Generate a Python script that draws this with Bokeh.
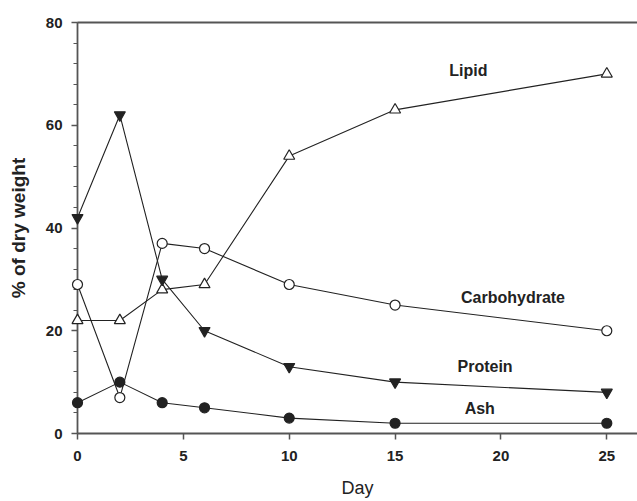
from bokeh.plotting import figure
from bokeh.models import Range1d, LinearAxis, FixedTicker, SingleIntervalTicker
from bokeh.core.properties import value
from bokeh.embed import file_html
from bokeh.resources import INLINE

days = [0, 2, 4, 6, 10, 15, 25]
lipid = [22, 22, 28, 29, 54, 63, 70]
carbohydrate = [29, 7, 37, 36, 29, 25, 20]
protein = [42, 62, 30, 20, 13, 10, 8]
ash = [6, 10, 6, 5, 3, 2, 2]

x_ticks = [0, 5, 10, 15, 20, 25]

label_text = ["Lipid", "Carbohydrate", "Protein", "Ash"]
label_x = [18.46, 20.57, 19.25, 19.0]
label_y = [70.6, 26.4, 13.0, 4.8]

FONT = "Liberation Sans"
INK = "#222222"
AXIS = "#555555"

p = figure(width=637, height=501,
           x_range=Range1d(0, 26.45), y_range=Range1d(0, 80),
           output_backend="svg", toolbar_location=None,
           min_border_left=77, min_border_right=0,
           min_border_top=22, min_border_bottom=68)
p.outline_line_color = None
p.xgrid.grid_line_color = None
p.ygrid.grid_line_color = None
p.background_fill_color = "white"
p.border_fill_color = "white"

xa = p.below[0]
ya = p.left[0]

for ax in (xa, ya):
    ax.axis_line_color = AXIS
    ax.axis_line_width = 1.8
    ax.major_tick_line_color = AXIS
    ax.major_tick_line_width = 1.5
    ax.minor_tick_line_color = AXIS
    ax.minor_tick_line_width = 1.2
    ax.major_tick_in = 0
    ax.major_tick_out = 6
    ax.minor_tick_in = 0
    ax.minor_tick_out = 4
    ax.major_label_text_font = FONT
    ax.major_label_text_font_style = "bold"
    ax.major_label_text_font_size = "15px"
    ax.major_label_text_color = INK
    ax.axis_label_text_font = FONT
    ax.axis_label_text_color = INK

xa.ticker = FixedTicker(ticks=x_ticks)
xa.minor_tick_line_color = None
xa.major_label_standoff = 11
xa.axis_label = "Day"
xa.axis_label_text_font_style = "normal"
xa.axis_label_text_font_size = "18px"
xa.axis_label_standoff = 14

ya.ticker = SingleIntervalTicker(interval=20, num_minor_ticks=5)
ya.major_label_standoff = 9
ya.axis_label = "% of dry weight"
ya.axis_label_text_font_style = "bold"
ya.axis_label_text_font_size = "19px"
ya.axis_label_standoff = 14

# top border line
top = LinearAxis(ticker=FixedTicker(ticks=[]), major_tick_line_color=None,
                 minor_tick_line_color=None, major_label_text_color=None,
                 major_label_text_font_size="1px",
                 major_label_standoff=0, major_tick_out=0, major_tick_in=0,
                 axis_line_color=AXIS, axis_line_width=1.8)
p.add_layout(top, "above")

series = [
    (lipid, "triangle", "white"),
    (carbohydrate, "circle", "white"),
    (protein, "inverted_triangle", INK),
    (ash, "circle", INK),
]
for vals, _, _ in series:
    p.line(days, vals, line_color=INK, line_width=1.1)
for vals, mk, fill in series:
    sz = 11 if "triangle" in mk else 10
    r = p.scatter(days, vals, marker=mk, size=sz, fill_color=fill,
                  line_color=INK, line_width=1.2)
    r.level = "overlay"

p.text(x=label_x, y=label_y, text=label_text, text_font=value(FONT),
       text_font_style="bold", text_font_size="16px", text_color=INK,
       text_align="center", text_baseline="middle")

open("out.html", "w").write(file_html(p, INLINE))
